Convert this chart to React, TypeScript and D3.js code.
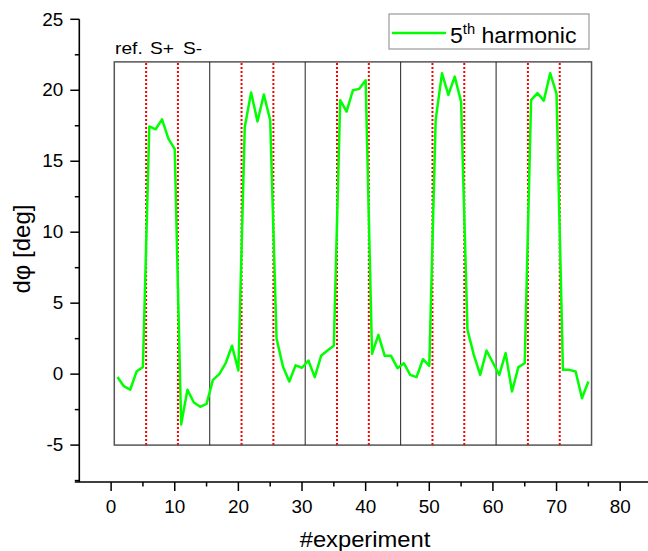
import React from 'react';
import * as d3 from 'd3';

const width = 648;
const height = 551;

// #experiment 1..75, dφ in degrees (5th harmonic)
const phase = [
  -0.2, -0.85, -1.1, 0.18, 0.5, 17.45, 17.25, 17.95, 16.6, 15.85, -3.55, -1.1, -2.0, -2.3, -2.1,
  -0.4, 0.0, 0.77, 2.0, 0.25, 17.4, 19.85, 17.8, 19.7, 17.9, 2.5, 0.54, -0.52, 0.62, 0.45,
  0.96, -0.21, 1.29, 1.66, 2.0, 19.3, 18.5, 20.0, 20.1, 20.7, 1.43, 2.77, 1.29, 1.29, 0.42,
  0.77, -0.05, -0.21, 1.05, 0.58, 17.9, 21.2, 19.67, 20.96, 19.2, 3.12, 1.36, -0.05, 1.66, 0.8,
  -0.05, 1.48, -1.22, 0.49, 0.77, 19.3, 19.8, 19.27, 21.2, 19.74, 0.3, 0.3, 0.18, -1.7, -0.52,
];
const experiments = phase.map((_, i) => i + 1);

const blockEdges = [0.5, 15.5, 30.5, 45.5, 60.5, 75.5];
const stimEdges = [5.5, 10.5, 20.5, 25.5, 35.5, 40.5, 50.5, 55.5, 65.5, 70.5];
const boxRange = [-5, 22];
const phaseLabels = ['ref.', 'S+', 'S-'];
const xTicks = [0, 10, 20, 30, 40, 50, 60, 70, 80];
const yTicks = [-5, 0, 5, 10, 15, 20, 25];

const font = 'Arial, "Liberation Sans", sans-serif';

// text stretched a little horizontally, like the exported figure
const Label = ({x, y, size, sx = 1.08, anchor = 'start', children}: any) => (
  <text transform={`translate(${x},${y}) scale(${sx},1)`} fontSize={size} textAnchor={anchor}>
    {children}
  </text>
);

export default function App() {
  const x = d3.scaleLinear().domain([-5, 85]).range([79.3, 652]);
  const y = d3.scaleLinear().domain([-7.6, 25]).range([482, 19.3]);

  const line = d3
    .line<number>()
    .x((_, i) => x(experiments[i]))
    .y(d => y(d));

  const xMinor = d3.range(5, 85, 10);
  const yMinor = d3.range(-7.5, 25, 5);
  const x0 = x.range()[0];
  const yb = y.range()[0];
  const labelX = [115, 150, 183];

  return (
    <svg
      width={width}
      height={height}
      style={{position: 'absolute', left: 0, top: 0, background: '#fff'}}
      fontFamily={font}
    >
      {/* box and block separators */}
      <rect
        x={x(blockEdges[0])}
        y={y(boxRange[1])}
        width={x(blockEdges[5]) - x(blockEdges[0])}
        height={y(boxRange[0]) - y(boxRange[1])}
        fill="none"
        stroke="#555"
        strokeWidth={1.5}
      />
      {blockEdges.slice(1, -1).map(b => (
        <line key={b} x1={x(b)} x2={x(b)} y1={y(boxRange[0])} y2={y(boxRange[1])} stroke="#222" strokeWidth={1} />
      ))}
      {stimEdges.map(s => (
        <line
          key={s}
          x1={x(s)}
          x2={x(s)}
          y1={y(boxRange[0])}
          y2={y(boxRange[1])}
          stroke="#ff0000"
          strokeWidth={2}
          strokeDasharray="2,2"
        />
      ))}
      {phaseLabels.map((t, i) => (
        <Label key={t} x={labelX[i]} y={54} size={16} sx={1.2}>{t}</Label>
      ))}

      <path d={line(phase) || ''} fill="none" stroke="#00ff00" strokeWidth={2.5} strokeLinejoin="round" />

      {/* y axis */}
      <line x1={x0} x2={x0} y1={y(25)} y2={yb} stroke="#000" strokeWidth={1.6} />
      {yTicks.map(t => (
        <g key={t}>
          <line x1={x0 - 9} x2={x0} y1={y(t)} y2={y(t)} stroke="#000" strokeWidth={1.5} />
          <Label x={x0 - 16} y={y(t) + 6.2} size={17.5} anchor="end">{t}</Label>
        </g>
      ))}
      {yMinor.map(t => (
        <line key={t} x1={x0 - 4.5} x2={x0} y1={y(t)} y2={y(t)} stroke="#000" strokeWidth={1.5} />
      ))}
      <text transform="translate(30, 249) rotate(-90)" textAnchor="middle" fontSize={24}>
        dφ [deg]
      </text>

      {/* x axis */}
      <line x1={x0 - 4.5} x2={width} y1={yb} y2={yb} stroke="#000" strokeWidth={1.6} />
      {xTicks.map(t => (
        <g key={t}>
          <line x1={x(t)} x2={x(t)} y1={yb} y2={yb + 9} stroke="#000" strokeWidth={1.5} />
          <Label x={x(t)} y={yb + 30.5} size={17.5} anchor="middle">{t}</Label>
        </g>
      ))}
      {xMinor.map(t => (
        <line key={t} x1={x(t)} x2={x(t)} y1={yb} y2={yb + 4.5} stroke="#000" strokeWidth={1.5} />
      ))}
      <Label x={365} y={547} size={22} anchor="middle">#experiment</Label>

      {/* legend */}
      <rect x={389} y={14} width={200} height={35} fill="#fff" stroke="#999" strokeWidth={1.2} />
      <line x1={392} x2={446} y1={33} y2={33} stroke="#00ff00" strokeWidth={2.5} />
      <text transform="translate(450,43) scale(1.05,1)" fontSize={22}>
        5<tspan fontSize={14} dy={-9}>th</tspan>
        <tspan dy={9}> harmonic</tspan>
      </text>
    </svg>
  );
}
